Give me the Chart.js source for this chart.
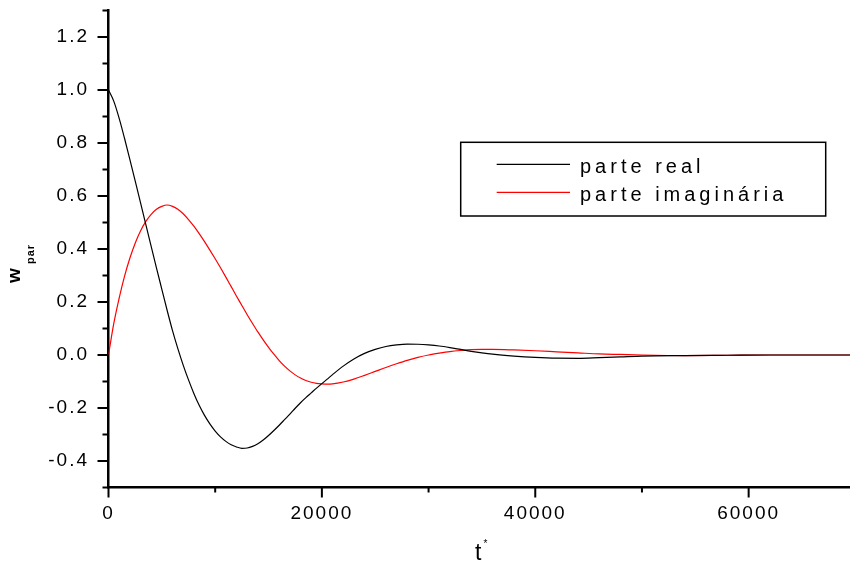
<!DOCTYPE html>
<html>
<head>
<meta charset="utf-8">
<script src="https://cdn.jsdelivr.net/npm/chart.js@4"></script>
<style>
  html, body { margin: 0; padding: 0; background: #fff; }
  #wrap { width: 850px; height: 565px; }
</style>
</head>
<body>
<div id="wrap"><canvas id="chart"></canvas></div>
<script>
// data (t*, W_par)
const tValues = [0, 500, 1000, 1500, 2000, 2500, 3000, 3500, 4000, 4500, 5000, 5500, 6000, 6500, 7000, 7500,
  8000, 8500, 9000, 9500, 10000, 10500, 11000, 11500, 12000, 12500, 13000, 13500, 14000, 14500, 15000, 15500,
  16000, 16500, 17000, 17500, 18000, 18500, 19000, 19500, 20000, 20500, 21000,
  22000, 23000, 24000, 25000, 26000, 27000, 28000, 29000, 30000, 31000, 32000, 33000, 34000, 35000, 36000,
  38000, 40000, 42000, 44000, 46000, 48000, 50000, 54000, 58000, 62000, 66000, 70000];
const realPart = [1.0, 0.957, 0.893, 0.818, 0.738, 0.657, 0.575, 0.492, 0.41, 0.328, 0.248, 0.168, 0.092, 0.024, -0.038, -0.094,
  -0.145, -0.19, -0.228, -0.26, -0.287, -0.309, -0.326, -0.339, -0.347, -0.352, -0.351, -0.345, -0.335, -0.321, -0.304, -0.285,
  -0.265, -0.244, -0.223, -0.201, -0.18, -0.161, -0.143, -0.125, -0.108, -0.091, -0.074,
  -0.042, -0.015, 0.006, 0.021, 0.032, 0.038, 0.041, 0.0405, 0.038, 0.034, 0.028, 0.021, 0.014, 0.008, 0.003,
  -0.004, -0.009, -0.012, -0.0125, -0.01, -0.007, -0.004, -0.002, -0.001, 0, 0, 0];
const imagPart = [0, 0.12, 0.215, 0.297, 0.365, 0.422, 0.468, 0.504, 0.531, 0.55, 0.561, 0.566, 0.561, 0.55, 0.533, 0.511,
  0.486, 0.458, 0.428, 0.396, 0.363, 0.329, 0.294, 0.258, 0.222, 0.187, 0.152, 0.119, 0.087, 0.057, 0.029, 0.003,
  -0.021, -0.042, -0.06, -0.075, -0.087, -0.096, -0.103, -0.107, -0.109, -0.11, -0.109,
  -0.102, -0.091, -0.077, -0.062, -0.047, -0.033, -0.02, -0.009, 0.0, 0.007, 0.013, 0.017, 0.02, 0.021, 0.021,
  0.019, 0.016, 0.012, 0.008, 0.004, 0.002, 0, -0.002, -0.001, 0, 0, 0];
const xTickValues = [0, 10000, 20000, 30000, 40000, 50000, 60000];
const seriesLabels = ['parte real', 'parte imagin\u00e1ria'];
const seriesColors = ['#000000', '#ff0000'];

const FONT = "'Liberation Sans', Arial, sans-serif";

function pts(ys) { return tValues.map((t, i) => ({ x: t, y: ys[i] })); }

// letter spacing for the wide-set look of the original
const spacingPlugin = {
  id: 'spacing',
  beforeDraw(chart) { chart.ctx.letterSpacing = '2px'; }
};

// ticks: long for labelled values, short for the ones between
const tickPlugin = {
  id: 'ticks',
  afterDraw(chart) {
    const ctx = chart.ctx;
    const xs = chart.scales.x, ys = chart.scales.y;
    const area = chart.chartArea;
    ctx.save();
    ctx.strokeStyle = '#000';
    ctx.lineWidth = 2;
    ys.ticks.forEach(tk => {
      const p = ys.getPixelForValue(tk.value);
      const major = Math.round(tk.value * 10) % 2 === 0;
      ctx.beginPath();
      ctx.moveTo(area.left, p);
      ctx.lineTo(area.left - (major ? 11 : 6), p);
      ctx.stroke();
    });
    xs.ticks.forEach(tk => {
      const p = xs.getPixelForValue(tk.value);
      const major = Math.round(tk.value / 10000) % 2 === 0;
      ctx.beginPath();
      ctx.moveTo(p, area.bottom);
      ctx.lineTo(p, area.bottom + (major ? 10 : 5));
      ctx.stroke();
    });
    ctx.restore();
  }
};

const titlePlugin = {
  id: 'titles',
  afterDraw(chart) {
    const ctx = chart.ctx;
    ctx.save();
    ctx.fillStyle = '#000';
    ctx.textBaseline = 'alphabetic';
    ctx.textAlign = 'left';
    // x title t*
    ctx.letterSpacing = '0px';
    ctx.font = '23px ' + FONT;
    ctx.fillText('t', 475, 560);
    ctx.font = '10px ' + FONT;
    ctx.fillText('*', 483.5, 547);
    // y title w_par
    ctx.translate(20, 283);
    ctx.rotate(-Math.PI / 2);
    ctx.font = 'bold 19px ' + FONT;
    ctx.fillText('w', 0, 0);
    ctx.letterSpacing = '1px';
    ctx.font = 'bold 11px ' + FONT;
    ctx.fillText('par', 19, 14);
    ctx.restore();
  }
};

const legendPlugin = {
  id: 'boxLegend',
  afterDraw(chart) {
    const ctx = chart.ctx;
    ctx.save();
    ctx.strokeStyle = '#000';
    ctx.lineWidth = 1.5;
    ctx.strokeRect(460.7, 142.3, 365, 73.7);
    ctx.font = '20px ' + FONT;
    ctx.letterSpacing = '4px';
    ctx.textBaseline = 'alphabetic';
    ctx.textAlign = 'left';
    chart.data.datasets.forEach((ds, i) => {
      const y = 164.3 + i * 28;
      ctx.strokeStyle = ds.borderColor;
      ctx.lineWidth = 1.3;
      ctx.beginPath();
      ctx.moveTo(496.7, y);
      ctx.lineTo(570, y);
      ctx.stroke();
      ctx.fillStyle = '#000';
      ctx.fillText(ds.label, 580, y + 9);
    });
    ctx.restore();
  }
};

new Chart(document.getElementById('chart'), {
  type: 'line',
  data: {
    datasets: [
      { label: seriesLabels[0], data: pts(realPart), borderColor: seriesColors[0] },
      { label: seriesLabels[1], data: pts(imagPart), borderColor: seriesColors[1] }
    ]
  },
  options: {
    responsive: true,
    maintainAspectRatio: false,
    animation: false,
    layout: { padding: { left: 0, right: 0, top: 10.5, bottom: 0 } },
    elements: {
      point: { radius: 0 },
      line: { borderWidth: 1.2, cubicInterpolationMode: 'monotone', fill: false }
    },
    plugins: { legend: { display: false }, tooltip: { enabled: false } },
    scales: {
      x: {
        type: 'linear',
        min: 0, max: 69500,
        afterBuildTicks(s) { s.ticks = xTickValues.map(v => ({ value: v })); },
        afterFit(s) { s.height = 77.5; s.paddingLeft = 0; s.paddingRight = 0; },
        border: { display: true, color: '#000', width: 2.5 },
        grid: { drawOnChartArea: false, drawTicks: true, tickLength: 10, tickColor: 'transparent' },
        ticks: {
          autoSkip: false,
          maxRotation: 0,
          padding: 5,
          color: '#000',
          font: { family: FONT, size: 19 },
          callback: v => (Math.round(v / 10000) % 2 === 0 ? String(v) : '')
        }
      },
      y: {
        min: -0.5, max: 1.3,
        afterFit(s) { s.width = 108.5; s.paddingTop = 0; s.paddingBottom = 0; },
        border: { display: true, color: '#000', width: 2.5 },
        grid: { drawOnChartArea: false, drawTicks: true, tickLength: 11, tickColor: 'transparent' },
        ticks: {
          stepSize: 0.1,
          autoSkip: false,
          padding: 8.5,
          color: '#000',
          font: { family: FONT, size: 19 },
          callback: v => (Math.round(v * 10) % 2 === 0 ? v.toFixed(1) : '')
        }
      }
    }
  },
  plugins: [spacingPlugin, tickPlugin, titlePlugin, legendPlugin]
});
</script>
</body>
</html>
